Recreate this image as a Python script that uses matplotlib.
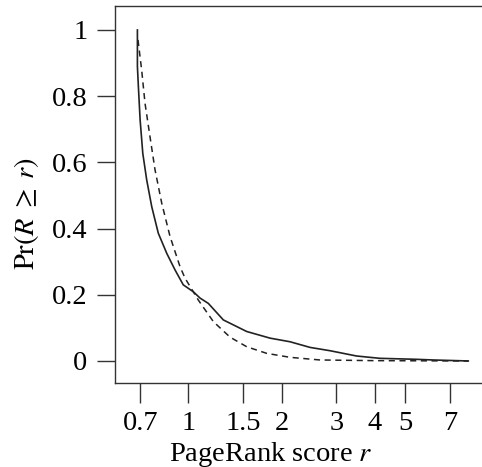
import numpy as np
import matplotlib
matplotlib.use("Agg")
import matplotlib.pyplot as plt
from matplotlib.ticker import NullLocator

plt.rcParams['font.family'] = ['Liberation Serif', 'DejaVu Serif']
plt.rcParams['mathtext.fontset'] = 'stix'

emp_r = [0.685, 0.685, 0.690, 0.699, 0.713, 0.734, 0.762, 0.800, 0.852, 0.906, 0.963,
         1.038, 1.091, 1.16, 1.297, 1.543, 1.835, 2.13, 2.47, 2.865, 3.49, 4.15,
         5.45, 6.17, 8.0]
emp_p = [1.0, 0.89, 0.829, 0.728, 0.627, 0.547, 0.466, 0.386, 0.325, 0.275, 0.230,
         0.209, 0.19, 0.174, 0.124, 0.089, 0.069, 0.058, 0.041, 0.031, 0.015, 0.008,
         0.005, 0.003, 0.0]

# fitted curve (dashed)
fit_r = [0.688, 0.707, 0.725, 0.752, 0.781, 0.821, 0.873, 0.940, 0.976, 1.077,
         1.204, 1.363, 1.543, 1.79, 2.13, 2.66, 4.0, 8.0]
fit_p = [0.97, 0.879, 0.778, 0.678, 0.577, 0.476, 0.376, 0.285, 0.25, 0.184,
         0.119, 0.072, 0.043, 0.023, 0.011, 0.003, 0.001, 0.0]

xticks = [0.7, 1, 1.5, 2, 3, 4, 5, 7]
xtick_labels = ['0.7', '1', '1.5', '2', '3', '4', '5', '7']
yticks = [0, 0.2, 0.4, 0.6, 0.8, 1]
ytick_labels = ['0', '0.2', '0.4', '0.6', '0.8', '1']

fig = plt.figure(figsize=(4.82, 4.67), dpi=100)
ax = fig.add_axes([0.2386, 0.1799, 0.7614, 0.8073])

ax.plot(emp_r, emp_p, color='#222222', lw=1.2)
ax.plot(fit_r, fit_p, color='#222222', lw=1.1, linestyle=(0, (4, 3)))

ax.set_xscale('log')
ax.set_xlim(0.580, 8.86)
ax.set_ylim(-0.0665, 1.0725)
ax.set_xticks(xticks)
ax.set_xticklabels(xtick_labels)
ax.xaxis.set_minor_locator(NullLocator())
ax.set_yticks(yticks)
ax.set_yticklabels(ytick_labels)

for s in ax.spines.values():
    s.set_color('#333333')
    s.set_linewidth(1.0)
ax.spines['right'].set_visible(False)

ax.tick_params(axis='y', length=13, width=1.0, color='#333333', pad=7, labelsize=20.5)
ax.tick_params(axis='x', length=14.5, width=1.0, color='#333333', pad=6, labelsize=20.5)

ax.set_xlabel('PageRank score $r$', fontsize=20.5)
ax.set_ylabel(r'$\mathrm{Pr}(R\;\geq\;r)$', fontsize=20.5)
ax.xaxis.set_label_coords(0.425, -0.150)
ax.yaxis.set_label_coords(-0.202, 0.448)

fig.savefig('out.png', dpi=100)
